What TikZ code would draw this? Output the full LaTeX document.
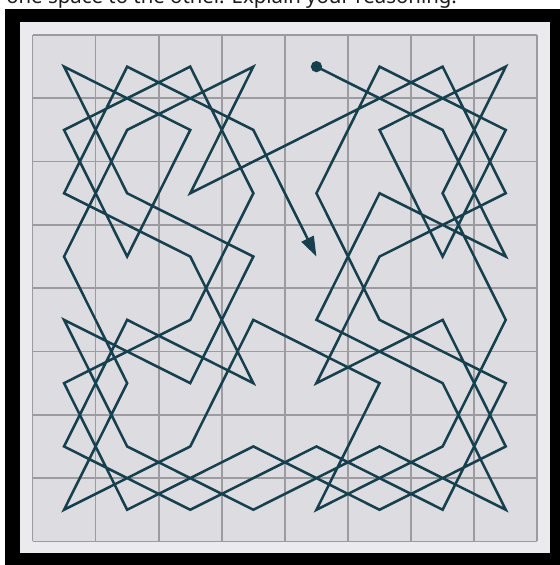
\documentclass[tikz,border=0pt]{standalone}
\usepackage{fontspec}
\setmainfont{Noto Sans}
\usetikzlibrary{arrows.meta}
\definecolor{boardlight}{HTML}{EBEAEF}
\definecolor{cellbg}{HTML}{DDDCE1}
\definecolor{gridgray}{HTML}{9B9BA0}
\definecolor{tourcol}{HTML}{16404D}
\definecolor{textdark}{HTML}{1C1C1C}
\begin{document}
\begin{tikzpicture}[x=0.75pt,y=-0.75pt,
  gridline/.style={draw=gridgray,line width=1.3pt},
  tourline/.style={draw=tourcol,line width=1.9pt},
  startdot/.style={circle,fill=tourcol,inner sep=0pt,minimum size=8.5pt},
  captiontext/.style={anchor=base west,inner sep=0pt,text=textdark,font=\fontsize{15.3}{18}\selectfont}]
\useasboundingbox (0,0) rectangle (560,565);
\fill[black] (5,9) rectangle (580,585);
\fill[boardlight] (20,22) rectangle (550,553);
\fill[cellbg] (32.5,35) rectangle (537.3,541.4);
\foreach \i in {0,...,8} {
  \draw[gridline] ({32.5+63.1*\i},35) -- ({32.5+63.1*\i},541.4);
  \draw[gridline] (32.5,{35+63.3*\i}) -- (537.3,{35+63.3*\i});
}
\foreach \c in {0,...,7} {
  \foreach \r in {0,...,7} {
    \coordinate (s\c\r) at ({32.5+63.1*(\c+0.5)},{35+63.3*(\r+0.5)});
  }
}
\node[captiontext] (caption) at (6,3) {one space to the other. Explain your reasoning.};
\draw[tourline,-{Triangle[length=15pt,width=10pt]}]
  (s40) -- (s61) -- (s73) -- (s52) -- (s44) -- (s65) -- (s77) -- (s56) --
  (s37) -- (s16) -- (s04) -- (s25) -- (s33) -- (s12) -- (s00) -- (s21) --
  (s13) -- (s01) -- (s20) -- (s32) -- (s24) -- (s05) -- (s17) -- (s36) --
  (s57) -- (s76) -- (s64) -- (s45) -- (s53) -- (s72) -- (s60) -- (s41) --
  (s22) -- (s30) -- (s11) -- (s03) -- (s15) -- (s07) -- (s26) -- (s34) --
  (s55) -- (s47) -- (s66) -- (s74) -- (s62) -- (s70) -- (s51) -- (s63) --
  (s71) -- (s50) -- (s42) -- (s54) -- (s75) -- (s67) -- (s46) -- (s27) --
  (s06) -- (s14) -- (s35) -- (s23) -- (s02) -- (s10) -- (s31) -- (s43);
\node[startdot] (start) at (s40) {};
\end{tikzpicture}
\end{document}
